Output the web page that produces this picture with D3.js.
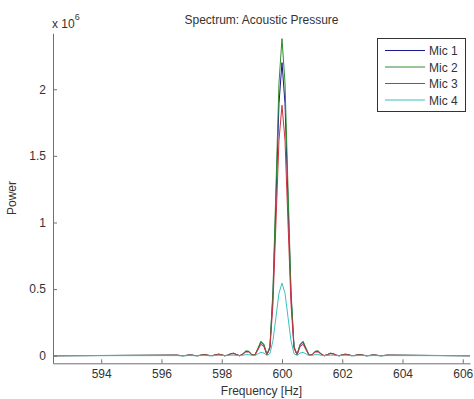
<!DOCTYPE html>
<html>
<head>
<meta charset="utf-8">
<script src="https://cdn.jsdelivr.net/npm/d3@7"></script>
<style>
    html, body { margin: 0; padding: 0; background: #fff; }
    svg { display: block; font-family: "Liberation Sans", Arial, sans-serif; }
</style>
</head>
<body>
<svg id="chart" width="474" height="399"></svg>
<script>
// Series names and colours
var SeriesNames = ["Mic 1", "Mic 2", "Mic 3", "Mic 4"];
var SeriesColors = ["#1a1a90", "#2e8b2e", "#d03040", "#3cc0c0"];
// Frequency grid [Hz]
var Frequencies = [592.4,
    596.5, 596.6, 596.7, 596.8, 596.9, 597.0, 597.1, 597.2, 597.3, 597.4,
    597.5, 597.6, 597.7, 597.8, 597.9, 598.0, 598.1, 598.2, 598.3, 598.4,
    598.5, 598.6, 598.7, 598.8, 598.9, 599.0, 599.1, 599.2, 599.3, 599.4,
    599.5, 599.6, 599.7, 599.8, 599.9, 600.0, 600.1, 600.2, 600.3, 600.4,
    600.5, 600.6, 600.7, 600.8, 600.9, 601.0, 601.1, 601.2, 601.3, 601.4,
    601.5, 601.6, 601.7, 601.8, 601.9, 602.0, 602.1, 602.2, 602.3, 602.4,
    602.5, 602.6, 602.7, 602.8, 602.9, 603.0, 603.1, 603.2, 603.3, 603.4,
    603.5, 606.24];
// Power values (x 10^6)
var Mic1 = [0,
    0.004, 0.002, 0, 0.0015, 0.0047, 0.0048, 0.0015, 0, 0.0035, 0.007,
    0.0055, 0.001, 0.001, 0.007, 0.011, 0.006, 0, 0.004, 0.015, 0.018,
    0.007, 0, 0.013, 0.033, 0.031, 0.007, 0.004, 0.051, 0.101, 0.079,
    0.008, 0.064, 0.451, 1.166, 1.892, 2.2, 1.892, 1.166, 0.451, 0.064,
    0.008, 0.079, 0.101, 0.051, 0.004, 0.007, 0.031, 0.033, 0.013, 0,
    0.007, 0.018, 0.015, 0.004, 0, 0.006, 0.011, 0.007, 0.001, 0.001,
    0.0055, 0.007, 0.0035, 0, 0.0015, 0.0048, 0.0047, 0.0015, 0, 0.002,
    0.004, 0];
var Mic2 = [0,
    0.0042, 0.0021, 0, 0.0017, 0.0051, 0.0051, 0.0016, 0, 0.004, 0.008,
    0.006, 0.001, 0.001, 0.008, 0.012, 0.007, 0, 0.004, 0.016, 0.019,
    0.008, 0, 0.014, 0.036, 0.034, 0.008, 0.005, 0.055, 0.109, 0.086,
    0.009, 0.069, 0.488, 1.261, 2.047, 2.38, 2.047, 1.261, 0.488, 0.069,
    0.009, 0.086, 0.109, 0.055, 0.005, 0.008, 0.034, 0.036, 0.014, 0,
    0.008, 0.019, 0.016, 0.004, 0, 0.007, 0.012, 0.008, 0.001, 0.001,
    0.006, 0.008, 0.004, 0, 0.0016, 0.0051, 0.0051, 0.0017, 0, 0.0021,
    0.0042, 0];
var Mic3 = [0,
    0.0033, 0.0017, 0, 0.0013, 0.004, 0.0041, 0.0013, 0, 0.003, 0.006,
    0.005, 0.001, 0.001, 0.006, 0.009, 0.005, 0, 0.003, 0.013, 0.015,
    0.006, 0, 0.011, 0.028, 0.027, 0.006, 0.004, 0.043, 0.086, 0.068,
    0.007, 0.055, 0.385, 0.996, 1.617, 1.88, 1.617, 0.996, 0.385, 0.055,
    0.007, 0.068, 0.086, 0.043, 0.004, 0.006, 0.027, 0.028, 0.011, 0,
    0.006, 0.015, 0.013, 0.003, 0, 0.005, 0.009, 0.006, 0.001, 0.001,
    0.005, 0.006, 0.003, 0, 0.0013, 0.0041, 0.004, 0.0013, 0, 0.0017,
    0.0033, 0];
var Mic4 = [0,
    0.001, 0, 0, 0, 0.001, 0.001, 0, 0, 0.001, 0.002,
    0.001, 0, 0, 0.002, 0.003, 0.002, 0, 0.001, 0.004, 0.004,
    0.002, 0, 0.003, 0.008, 0.008, 0.002, 0.001, 0.013, 0.025, 0.020,
    0.002, 0.016, 0.112, 0.289, 0.469, 0.545, 0.469, 0.289, 0.112, 0.016,
    0.002, 0.020, 0.025, 0.013, 0.001, 0.002, 0.008, 0.008, 0.003, 0,
    0.002, 0.004, 0.004, 0.001, 0, 0.002, 0.003, 0.002, 0, 0,
    0.001, 0.002, 0.001, 0, 0, 0.001, 0.001, 0, 0, 0,
    0.001, 0];
// Tick values and labels
var XTicks = [594, 596, 598, 600, 602, 604, 606];
var YTicks = [0, 0.5, 1, 1.5, 2];
var YTickLabels = ["0", "0.5", "1", "1.5", "2"];

/** Axes: plot area in pixels. */
var Left = 53, Right = 470, Top = 33.3, Bottom = 363.3;
var TextColor = "#333", AxisColor = "#707070";

var Svg = d3.select("#chart");
var X = d3.scaleLinear().domain([592.4, 606.24]).range([Left, Right]);
var Y = d3.scaleLinear().domain([-0.057, 2.42]).range([Bottom, Top]);

// Lines
var AllSeries = [Mic1, Mic2, Mic3, Mic4];
var Line = d3.line().x((D, I) => X(Frequencies[I])).y((D) => Y(D));
Svg.append("g").attr("class", "lines")
    .selectAll("path").data(AllSeries).join("path")
    .attr("d", (Values) => Line(Values))
    .attr("fill", "none")
    .attr("stroke", (D, I) => SeriesColors[I])
    .attr("stroke-width", 1);

// Axes (ticks pointing inward like MATLAB)
var XAxis = Svg.append("g").attr("transform", `translate(0,${Bottom})`)
    .call(d3.axisBottom(X).tickValues(XTicks).tickSizeInner(-4).tickSizeOuter(0).tickPadding(6));
var YAxis = Svg.append("g").attr("transform", `translate(${Left},0)`)
    .call(d3.axisLeft(Y).tickValues(YTicks).tickFormat((D, I) => YTickLabels[I])
        .tickSizeInner(-4).tickSizeOuter(0).tickPadding(7));
[XAxis, YAxis].forEach((Axis) => {
    Axis.select(".domain").attr("stroke", AxisColor);
    Axis.selectAll(".tick line").attr("stroke", AxisColor);
    Axis.selectAll(".tick text").attr("fill", TextColor).attr("font-size", 12)
        .attr("font-family", "Liberation Sans, Arial, sans-serif");
});

// Exponent label
var Exp = Svg.append("text").attr("x", 52).attr("y", 28).attr("fill", TextColor).attr("font-size", 12);
Exp.append("tspan").text("x 10");
Exp.append("tspan").attr("dy", -8).attr("font-size", 9).text("6");

// Title and axis labels
Svg.append("text").attr("x", (Left + Right) / 2).attr("y", 24).attr("text-anchor", "middle")
    .attr("fill", TextColor).attr("font-size", 12).text("Spectrum: Acoustic Pressure");
Svg.append("text").attr("x", (Left + Right) / 2).attr("y", 395).attr("text-anchor", "middle")
    .attr("fill", TextColor).attr("font-size", 12).text("Frequency [Hz]");
Svg.append("text").attr("transform", "translate(16,198) rotate(-90)").attr("text-anchor", "middle")
    .attr("fill", TextColor).attr("font-size", 12).text("Power");

// Legend
var Legend = Svg.append("g");
Legend.append("rect").attr("x", 377.5).attr("y", 38.5).attr("width", 88).attr("height", 73)
    .attr("fill", "#fff").attr("stroke", "#333").attr("stroke-width", 1);
var Entries = Legend.selectAll("g.entry").data(SeriesNames).join("g")
    .attr("transform", (D, I) => `translate(0,${50.5 + I * 16.5})`);
Entries.append("line").attr("x1", 385).attr("x2", 425).attr("y1", 0).attr("y2", 0)
    .attr("stroke", (D, I) => SeriesColors[I]).attr("stroke-width", 1);
Entries.append("text").attr("x", 429).attr("y", 4.5).attr("fill", TextColor).attr("font-size", 12)
    .text((D) => D);
</script>
</body>
</html>
